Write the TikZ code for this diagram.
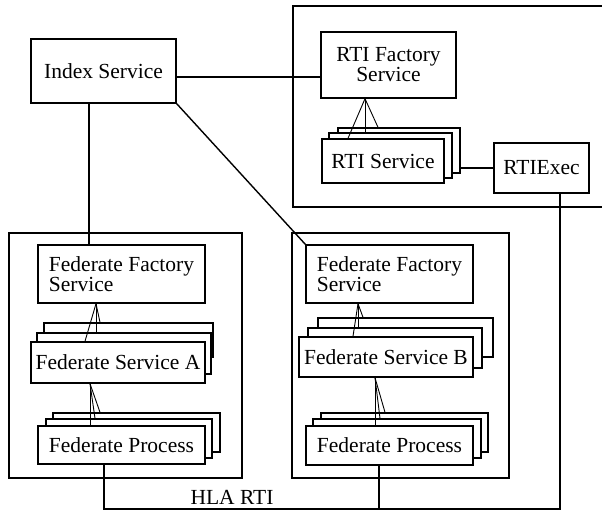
\documentclass[tikz,border=0pt]{standalone}
\usepackage{fontspec}
\setmainfont{Liberation Serif}
\usetikzlibrary{calc}

% box from corners: style, name, x1, y1, x2, y2, text
\newcommand\mkbox[7]{%
  \node[box,#1,minimum width={(#5)-(#3)},minimum height={(#6)-(#4)}]
    (#2) at ({((#3)+(#5))/2},{((#4)+(#6))/2}) {#7};}

\tikzset{
  box/.style={draw,line width=1.4pt,fill=white,inner xsep=2pt,inner ysep=0pt,
    font=\fontsize{21.5}{20}\selectfont},
  leftbox/.style={align=left},
  wire/.style={line width=1.4pt},
  fan/.style={line width=0.9pt},
}

\begin{document}
\begin{tikzpicture}[x=1pt,y=-1pt]
\useasboundingbox (0,0) rectangle (602,511);
\clip (0,0) rectangle (602,511);

% enclosing frames
\mkbox{}{rtiframe}{293}{6}{620}{207}{}
\mkbox{}{fedA}{9}{233}{242}{478}{}
\mkbox{}{fedB}{292}{233}{509}{478}{}

% index service
\mkbox{}{index}{31}{39}{176}{103}{Index Service}

% RTI side
\mkbox{align=center}{rtif}{321}{32}{456}{98}{RTI Factory\\Service}
\mkbox{}{rts3}{338}{128}{460}{173}{}
\mkbox{}{rts2}{329}{133}{452}{178}{}
\mkbox{}{rts1}{322}{139}{444}{183}{RTI Service}
\mkbox{}{rtiexec}{494}{143}{589}{193}{RTIExec}

% federation A
\mkbox{leftbox}{ffsa}{38}{245}{205}{303}{Federate Factory\\Service}
\mkbox{}{fsa3}{44}{323}{213}{357}{}
\mkbox{}{fsa2}{37}{333}{211}{374}{}
\mkbox{}{fsa1}{31}{342}{205}{383}{Federate Service A}
\mkbox{}{fpa3}{53}{413}{220}{452}{}
\mkbox{}{fpa2}{46}{419}{212}{458}{}
\mkbox{}{fpa1}{38}{426}{205}{464}{Federate Process}

% federation B
\mkbox{leftbox}{ffsb}{306}{245}{473}{303}{Federate Factory\\Service}
\mkbox{}{fsb3}{318}{318}{493}{357}{}
\mkbox{}{fsb2}{308}{328}{482}{368}{}
\mkbox{}{fsb1}{299}{337}{473}{377}{Federate Service B}
\mkbox{}{fpb3}{321}{413}{488}{452}{}
\mkbox{}{fpb2}{313}{419}{481}{458}{}
\mkbox{}{fpb1}{306}{426}{473}{465}{Federate Process}

% connections of the index service
\draw[wire] (index.east |- 0,77) -- (rtif.west |- 0,77);
\draw[wire] (index.south -| 89,0) -- (ffsa.north -| 89,0);
\draw[wire] (index.south east) -- (ffsb.north west);

% RTI service to executive
\draw[wire] (rts3.east |- rtiexec.west) -- (rtiexec.west);

% factories fanning out to their stacked instances
\coordinate (apR) at (rtif.south -| 365,0);
\draw[fan] (apR) -- (rts1.north -| 348,0);
\draw[fan] (apR) -- (rts2.north -| 365,0);
\draw[fan] (apR) -- (rts3.north -| 378,0);

\coordinate (apA) at (ffsa.south -| 96,0);
\draw[fan] (apA) -- (fsa1.north -| 85,0);
\draw[fan] (apA) -- (fsa2.north -| 96,0);
\draw[fan] (apA) -- (fsa3.north -| 100,0);

\coordinate (apA2) at (fsa1.south -| 90,0);
\draw[fan] (apA2) -- (fpa1.north -| 90,0);
\draw[fan] (apA2) -- (fpa2.north -| 95,0);
\draw[fan] (apA2) -- (fpa3.north -| 100,0);

\coordinate (apB) at (ffsb.south -| 358,0);
\draw[fan] (apB) -- (fsb1.north -| 353,0);
\draw[fan] (apB) -- (fsb2.north -| 358,0);
\draw[fan] (apB) -- (fsb3.north -| 363,0);

\coordinate (apB2) at (fsb1.south -| 375,0);
\draw[fan] (apB2) -- (fpb1.north -| 375,0);
\draw[fan] (apB2) -- (fpb2.north -| 380,0);
\draw[fan] (apB2) -- (fpb3.north -| 385,0);

% HLA RTI bus
\coordinate (busL) at (104,509);
\coordinate (busR) at (560,509);
\draw[wire] (fpa1.south -| busL) -- (busL) -- (busR) -- (rtiexec.south -| busR);
\draw[wire] (fpb1.south -| 379,0) -- (379,0 |- busL);
\node[font=\fontsize{21.5}{20}\selectfont,anchor=base] (hla) at (232,504) {HLA RTI};
\end{tikzpicture}
\end{document}
